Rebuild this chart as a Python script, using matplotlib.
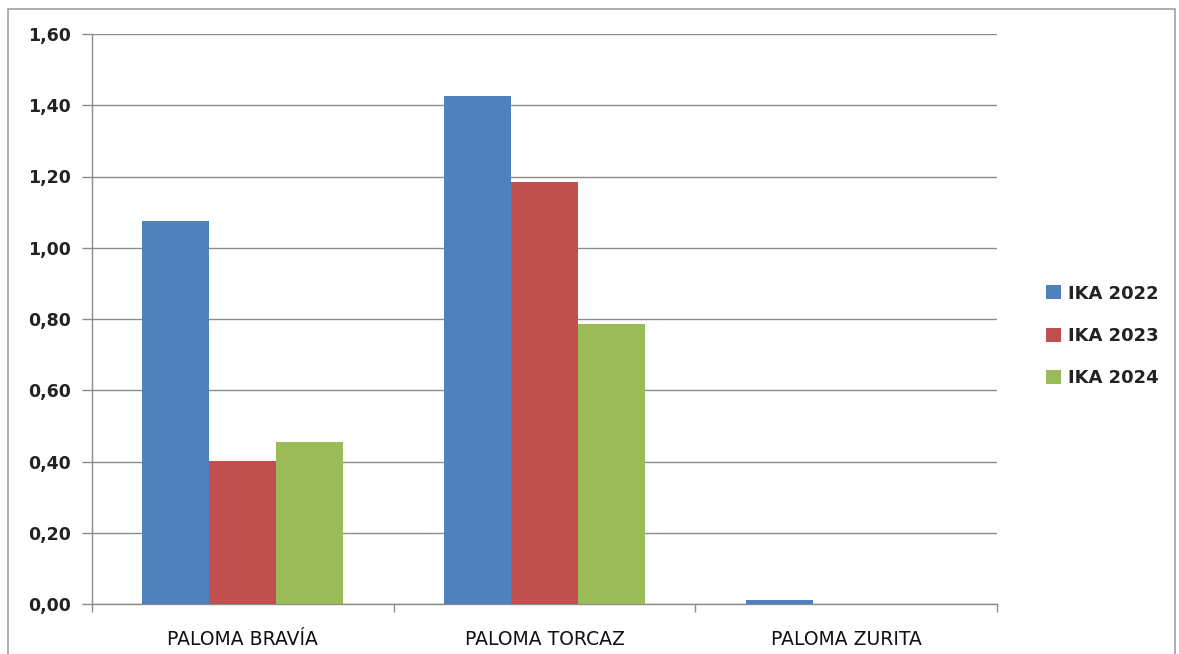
import numpy as np
import matplotlib.pyplot as plt
from matplotlib.patches import Patch, Rectangle

categories = ['PALOMA BRAVÍA', 'PALOMA TORCAZ', 'PALOMA ZURITA']
series = ['IKA 2022', 'IKA 2023', 'IKA 2024']
ika_2022 = [1.075, 1.425, 0.012]
ika_2023 = [0.402, 1.185, 0.0]
ika_2024 = [0.455, 0.786, 0.0]
colors = ['#4F81BD', '#C0504D', '#9BBB59']
yticks = [0.0, 0.2, 0.4, 0.6, 0.8, 1.0, 1.2, 1.4, 1.6]

fig = plt.figure(figsize=(11.79, 6.54), dpi=100)
ax = fig.add_axes([92 / 1179, 50 / 654, 905 / 1179, 570 / 654])

x = np.arange(len(categories))
width = 0.222
for i, (vals, c) in enumerate(zip([ika_2022, ika_2023, ika_2024], colors)):
    ax.bar(x + (i - 1) * width, vals, width, color=c, zorder=3)

ax.set_xlim(-0.5, len(categories) - 0.5)
ax.set_ylim(0, 1.6)
ax.set_yticks(yticks)
ax.set_yticklabels([f'{v:.2f}'.replace('.', ',') for v in yticks],
                   fontsize=12.5, fontweight='bold', color='#222222')
ax.yaxis.grid(True, color='#8c8c8c', linewidth=1.0, zorder=0)

ax.set_xticks(x)
ax.set_xticklabels(categories, fontsize=13.5, color='#111111')
ax.tick_params(axis='x', which='major', length=0, pad=19)
ax.set_xticks(np.arange(-0.5, len(categories)), minor=True)
ax.tick_params(axis='x', which='minor', length=6, color='#8c8c8c', width=1)
ax.tick_params(axis='y', length=7, color='#8c8c8c', width=1, pad=8)

for side in ['top', 'right']:
    ax.spines[side].set_visible(False)
for side in ['left', 'bottom']:
    ax.spines[side].set_color('#8c8c8c')
    ax.spines[side].set_linewidth(1.0)

handles = [Patch(facecolor=c, edgecolor='none') for c in colors]
fig.legend(handles, series, loc='center left', bbox_to_anchor=(1030 / 1179, 1 - 336 / 654),
           frameon=False, prop={'size': 13, 'weight': 'bold'}, handlelength=0.8,
           handleheight=0.8, handletextpad=0.4, labelspacing=1.35, labelcolor='#222222')

# outer chart border
fig.patches.append(Rectangle((8 / 1179, -0.05), 1167 / 1179, 1.05 - 9 / 654,
                             transform=fig.transFigure, fill=False,
                             edgecolor='#a0a0a0', linewidth=1.2))

fig.savefig('out.png', dpi=100)
